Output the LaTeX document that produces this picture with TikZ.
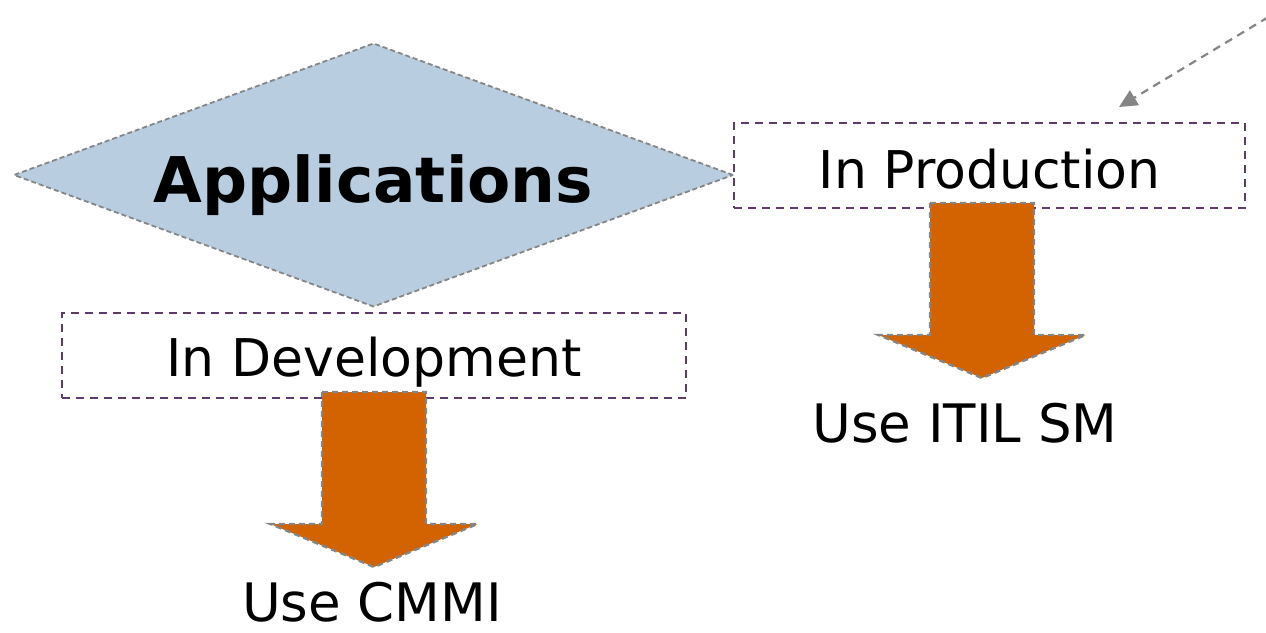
\documentclass[tikz,border=0pt]{standalone}
\usepackage{fontspec}
\setmainfont{DejaVu Sans}
\usetikzlibrary{shapes.geometric,arrows.meta}
\definecolor{diafill}{HTML}{B9CDE0}
\definecolor{edgegray}{HTML}{858585}
\definecolor{boxpurple}{HTML}{5F3B6C}
\definecolor{arroworange}{HTML}{D26300}
\tikzset{
  decision/.style={diamond, fill=diafill, draw=edgegray, line width=1.8pt,
    dash pattern=on 5pt off 3pt, inner sep=0pt, outer sep=0pt,
    minimum width=719pt, minimum height=263pt, aspect=2.73,
    font=\fontsize{63}{70}\selectfont\bfseries, text height=54pt, text depth=0pt},
  stagebox/.style={rectangle, draw=boxpurple, line width=2pt,
    dash pattern=on 8pt off 6pt, inner sep=0pt, outer sep=0pt,
    font=\fontsize{52}{60}\selectfont, minimum height=85pt},
  resulttext/.style={anchor=base, inner sep=0pt, text depth=0pt, font=\fontsize{53}{60}\selectfont},
  blockarrow/.pic={
    \path[fill=arroworange, draw=edgegray, line width=2.4pt, dash pattern=on 6pt off 4pt]
      (-52,0) -- (52,0) -- (52,132) -- (103.5,132) -- (0,175) -- (-103.5,132) -- (-52,132) -- cycle;
  },
  pointer/.style={draw=edgegray, line width=2.2pt, dash pattern=on 8pt off 6pt,
    -{Triangle[length=18pt,width=17pt,fill=edgegray]}}
}
\begin{document}
\begin{tikzpicture}[x=1pt,y=-1pt]
\useasboundingbox (0,0) rectangle (1266,632);
% stage boxes
\node[stagebox, minimum width=511pt, text height=45pt, text depth=0pt] (prod) at (989.5,165.5) {In Production};
\node[stagebox, minimum width=624pt, text height=42pt, text depth=0pt] (dev) at (374,355) {In Development};
% decision diamond
\node[decision] (app) at (373.5,175) {Applications};
% block arrows
\pic at (374,392) {blockarrow};
\pic at (982,203) {blockarrow};
% results
\node[resulttext] (itil) at (965,442) {Use ITIL SM};
\node[resulttext] (cmmi) at (372,621) {Use CMMI};
% incoming dashed pointer
\coordinate (src) at (1280,10);
\coordinate (tip) at (1119,107);
\draw[pointer] (src) -- (tip);
\end{tikzpicture}
\end{document}
